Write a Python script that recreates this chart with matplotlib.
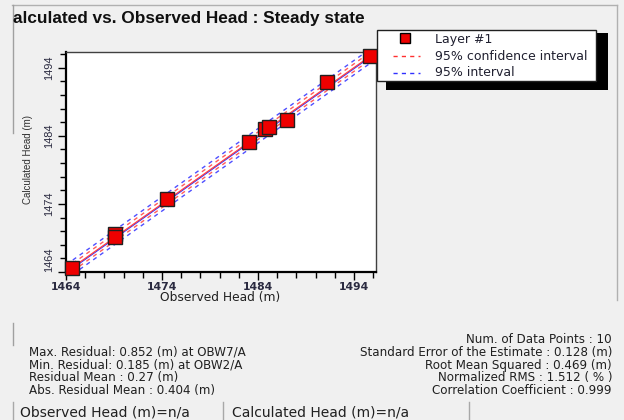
import matplotlib
matplotlib.use("Agg")
import matplotlib.pyplot as plt
from matplotlib.patches import Rectangle
from matplotlib.lines import Line2D
import numpy as np

plt.rcParams['font.family'] = ['Liberation Sans', 'DejaVu Sans']

# ---- data ----
observed = [1464.6, 1469.1, 1469.1, 1474.55, 1483.05, 1484.7, 1485.1, 1487.0, 1491.15, 1495.7]
calculated = [1464.6, 1469.6, 1469.2, 1474.7, 1483.1, 1485.0, 1485.3, 1486.3, 1491.85, 1495.75]
ticks = [1464, 1474, 1484, 1494]
axis_range = [1464, 1496.3]
conf_offset = 0.55      # 95% confidence interval half-width (m)
pred_offset = 1.05      # 95% interval half-width (m)
reg_offset = -0.15      # regression line offset

title = "alculated vs. Observed Head : Steady state"
left_stats = ["Max. Residual: 0.852 (m) at OBW7/A",
              "Min. Residual: 0.185 (m) at OBW2/A",
              "Residual Mean : 0.27 (m)",
              "Abs. Residual Mean : 0.404 (m)"]
right_stats = ["Num. of Data Points : 10",
               "Standard Error of the Estimate : 0.128 (m)",
               "Root Mean Squared : 0.469 (m)",
               "Normalized RMS : 1.512 ( % )",
               "Correlation Coefficient : 0.999"]
status = ["Observed Head (m)=n/a", "Calculated Head (m)=n/a"]
legend_labels = ["Layer #1", "95% confidence interval", "95% interval"]

W, H = 624, 420
WIDE = ['DejaVu Sans']
fig = plt.figure(figsize=(W / 100, H / 100), dpi=100, facecolor='#f0f0f0')

def P(x, y):
    return (x / W, 1 - y / H)

# window borders
def fline(x0, y0, x1, y1, color='#a0a0a0', lw=1.0):
    a, b = P(x0, y0)
    c, d = P(x1, y1)
    fig.add_artist(Line2D([a, c], [b, d], color=color, lw=lw, transform=fig.transFigure))

fline(12, 4.5, 617, 4.5, color='#b0b0b0')
fline(617, 4.5, 617, 300, color='#b0b0b0')
fline(13, 4.5, 13, 133, color='#a0a0a0')
fline(13, 323, 13, 345, color='#a0a0a0')
for xs in [13, 223, 469]:
    fline(xs, 402, xs, 420, color='#a8a8a8')

# title
fig.text(*P(13, 18), title, fontsize=12.4, fontweight='bold', ha='left', va='center', color='#101010')

# axes
ax = fig.add_axes([66 / W, 1 - 272 / H, (376 - 66) / W, (272 - 52) / H])
ax.set_facecolor('white')
ax.set_xlim(axis_range)
ax.set_ylim(axis_range)

xx = np.array(axis_range)
ax.plot(xx, xx + pred_offset, color='#3030ff', lw=1.0, ls=(0, (3, 3)), alpha=0.85)
ax.plot(xx, xx - pred_offset, color='#3030ff', lw=1.0, ls=(0, (3, 3)), alpha=0.85)
ax.plot(xx, xx + conf_offset, color='#ff4040', lw=1.0, ls=(0, (3, 3)), alpha=0.85)
ax.plot(xx, xx - conf_offset, color='#ff4040', lw=1.0, ls=(0, (3, 3)), alpha=0.85)
ax.plot(xx, xx + reg_offset, color='#3030ff', lw=0.8)
ax.plot(xx, xx, color='#ff4040', lw=0.9)
ax.plot(observed, calculated, 's', color='#ee0000', markeredgecolor='#202020',
        markeredgewidth=1.0, markersize=9.5, ls='none', clip_on=False, zorder=5)

ax.set_xticks(ticks)
ax.set_yticks(ticks)
ax.set_xticks(np.arange(1464, 1497, 2), minor=True)
ax.set_yticks(np.arange(1464, 1497, 2), minor=True)
ax.tick_params(which='major', direction='out', length=6, width=1, color='black',
               labelcolor='#2a2a40')
ax.tick_params(axis='x', which='major', pad=1.5)
ax.tick_params(axis='y', which='major', pad=2.5)
ax.tick_params(which='minor', direction='out', length=4, width=1, color='black')
ax.set_xticklabels([str(t) for t in ticks], fontweight='bold', family=WIDE, fontsize=7.8)
ax.set_yticklabels([str(t) for t in ticks], rotation=90, va='center', fontsize=7.9)
ax.get_yticklabels()[0].set_va('bottom')
for s in ['left', 'bottom']:
    ax.spines[s].set_linewidth(1.6)
for s in ['top', 'right']:
    ax.spines[s].set_linewidth(1.0)
    ax.spines[s].set_color('#404040')

fig.text(*P(220, 298), "Observed Head (m)", fontsize=8.8, family=WIDE, ha='center', va='center',
         color='#202020')
fig.text(*P(28, 160), "Calculated Head (m)", fontsize=7.0, ha='center', va='center',
         rotation=90, color='#303030')

# legend with shadow
def frect(x0, y0, x1, y1, fc, ec='none', lw=0.0):
    a, b = P(x0, y1)
    fig.add_artist(Rectangle((a, b), (x1 - x0) / W, (y1 - y0) / H, facecolor=fc,
                             edgecolor=ec, lw=lw, transform=fig.transFigure))

frect(386, 33, 608, 90, 'black')
frect(377, 30, 596, 81, 'white', ec='#202020', lw=1.0)
mx, my = P(405, 38)
fig.add_artist(Line2D([mx], [my], marker='s', color='#ee0000', markeredgecolor='black',
                      markersize=7.5, markeredgewidth=1.0, transform=fig.transFigure))
for yy, col in [(56, '#ff3030'), (73, '#3030ff')]:
    a, b = P(393, yy)
    c, d = P(420, yy)
    fig.add_artist(Line2D([a, c], [b, d], color=col, lw=1.0, ls=(0, (3, 3)),
                          transform=fig.transFigure))
for yy, lab in zip([39, 56, 73], legend_labels):
    fig.text(*P(435, yy), lab, fontsize=9.0, family=WIDE, ha='left', va='center', color='#202030')

# stats
for i, s in enumerate(left_stats):
    fig.text(*P(29, 352.3 + i * 12.8), s, fontsize=8.6, family=WIDE, ha='left', va='center',
             color='#202020')
for i, s in enumerate(right_stats):
    fig.text(*P(612, 339.5 + i * 12.8), s, fontsize=8.6, family=WIDE, ha='right', va='center',
             color='#202020')

fig.text(*P(20, 412), status[0], fontsize=10, family=WIDE, ha='left', va='center', color='#202020')
fig.text(*P(232, 412), status[1], fontsize=10, family=WIDE, ha='left', va='center', color='#202020')

fig.savefig('out.png', dpi=100, facecolor=fig.get_facecolor())
